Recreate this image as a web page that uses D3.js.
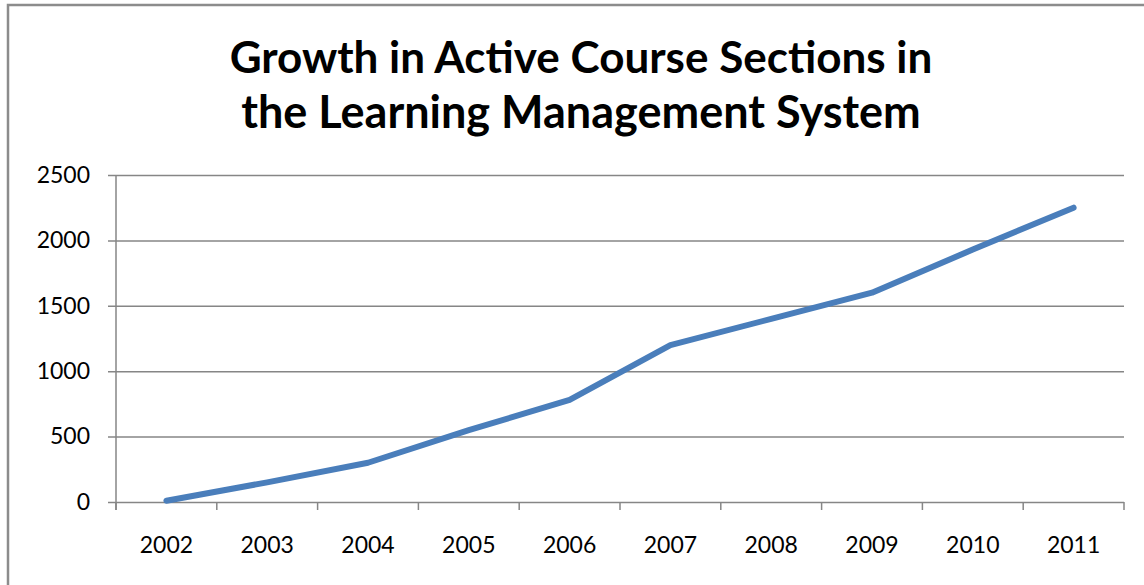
<!DOCTYPE html>
<html>
<head>
<meta charset="utf-8">
<script src="https://cdn.jsdelivr.net/npm/d3@7"></script>
<style>
    html, body { margin: 0; padding: 0; background: #fff; overflow: hidden; }
    text { font-family: Lato, "Open Sans", sans-serif; fill: #000; }
</style>
</head>
<body>
<script>
var years = ["2002", "2003", "2004", "2005", "2006", "2007", "2008", "2009", "2010", "2011"];
var sections = [10, 150, 300, 550, 780, 1200, 1400, 1600, 1930, 2250];
var yTicks = [0, 500, 1000, 1500, 2000, 2500];
var titleLines = ["Growth in Active Course Sections in", "the Learning Management System"];

(function () {
    "use strict";

    var width = 1144, height = 585;
    var margin = {top: 175, right: 20, bottom: 83, left: 116};
    var innerWidth = width - margin.left - margin.right;
    var innerHeight = height - margin.top - margin.bottom;

    var svg = d3.select("body").append("svg")
        .attr("width", width)
        .attr("height", height);

    // chart border, runs off the right and bottom edge like the original
    svg.append("rect")
        .attr("x", 8)
        .attr("y", 5)
        .attr("width", width + 20)
        .attr("height", height + 20)
        .attr("fill", "none")
        .attr("stroke", "#8c8c8c")
        .attr("stroke-width", 2.5);

    svg.append("text")
        .attr("text-anchor", "middle")
        .attr("font-weight", "bold")
        .attr("font-size", 44)
        .selectAll("tspan")
        .data(titleLines)
        .join("tspan")
        .attr("x", 581)
        .attr("y", function (d, i) { return 73 + i * 55; })
        .attr("font-size", function (d, i) { return i ? 45 : 44; })
        .text(function (d) { return d; });

    var area = svg.append("g")
        .attr("transform", "translate(" + margin.left + "," + margin.top + ")");

    var x = d3.scaleBand().domain(years).range([0, innerWidth]);
    var y = d3.scaleLinear().domain([0, 2500]).range([innerHeight, 0]);

    // y axis: gridlines with short ticks to the left
    var yAxis = area.append("g")
        .call(d3.axisLeft(y)
            .tickValues(yTicks)
            .tickSize(-innerWidth)
            .tickPadding(26)
            .tickFormat(d3.format("d")));
    yAxis.select(".domain").remove();
    yAxis.selectAll(".tick line")
        .attr("x1", -8)
        .attr("stroke", "#868686")
        .attr("stroke-width", 1.5);
    yAxis.selectAll(".tick text")
        .attr("font-size", 23)
        .attr("font-family", "Lato, sans-serif");

    area.append("line")
        .attr("x1", 0).attr("x2", 0)
        .attr("y1", 0).attr("y2", innerHeight + 8)
        .attr("stroke", "#868686")
        .attr("stroke-width", 1.5);

    // x axis: ticks at category boundaries, labels centred
    var xAxis = area.append("g")
        .attr("transform", "translate(0," + innerHeight + ")")
        .call(d3.axisBottom(x).tickSize(0).tickPadding(35));
    xAxis.select(".domain").remove();
    xAxis.selectAll(".tick text")
        .attr("font-size", 23)
        .attr("font-family", "Lato, sans-serif");

    area.append("g")
        .selectAll("line")
        .data(years.concat(["end"]))
        .join("line")
        .attr("x1", function (d, i) { return i * x.step(); })
        .attr("x2", function (d, i) { return i * x.step(); })
        .attr("y1", innerHeight)
        .attr("y2", innerHeight + 8)
        .attr("stroke", "#868686")
        .attr("stroke-width", 1.5);

    var line = d3.line()
        .x(function (d, i) { return x(years[i]) + x.bandwidth() / 2; })
        .y(function (d) { return y(d); });

    area.append("path")
        .datum(sections)
        .attr("d", line)
        .attr("fill", "none")
        .attr("stroke", "#4a7ebb")
        .attr("stroke-width", 6)
        .attr("stroke-linecap", "round")
        .attr("stroke-linejoin", "round");
})();
</script>
</body>
</html>
